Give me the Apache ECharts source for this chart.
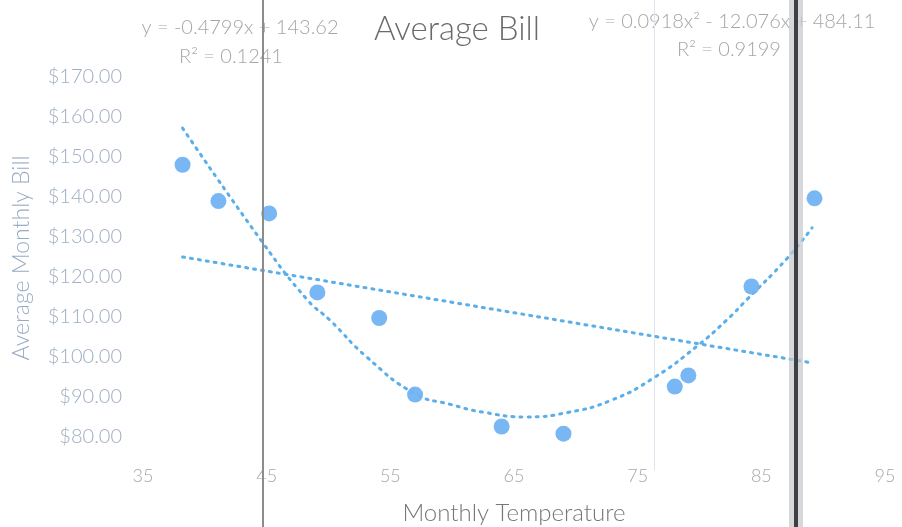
<!DOCTYPE html>
<html>
<head>
<meta charset="utf-8">
<script src="https://cdn.jsdelivr.net/npm/echarts@6/dist/echarts.min.js"></script>
<style>html,body{margin:0;padding:0;background:#fff}#c{width:902px;height:527px}</style>
</head>
<body>
<div id="c"></div>
<script>
// Data
const temps = [38.2, 41.1, 45.2, 49.1, 54.1, 57.0, 64.0, 69.0, 78.0, 79.1, 84.2, 89.3];
const bills = [148.0, 138.9, 135.8, 116.0, 109.6, 90.4, 82.4, 80.6, 92.4, 95.2, 117.5, 139.6];
// Trendlines
const linearTrend = [[38.2, 124.9], [89.2, 98.3]];
const polyTrend = [[38.2, 157.2], [44.7, 128.4], [48.3, 114.1], [50.1, 109.1], [53.1, 99.8],
  [57.0, 90.6], [59.8, 88.0], [62.5, 86.0], [66.0, 84.8], [69.3, 85.9], [72.8, 88.9],
  [76.3, 94.6], [79.9, 102.8], [82.2, 109.1], [83.8, 114.1], [87.1, 124.6], [89.1, 132.2]];
const xTicks = [35, 45, 55, 65, 75, 85, 95];
const titleText = 'Average Bill';
const xName = 'Monthly Temperature';
const yName = 'Average Monthly Bill';
const linEq = 'y = -0.4799x + 143.62';
const linR2 = 'R² = 0.1241';
const polyEq = 'y = 0.0918x² - 12.076x + 484.11';
const polyR2 = 'R² = 0.9199';

const font = 'Lato, "Open Sans", sans-serif';
const chart = echarts.init(document.getElementById('c'));
const pts = temps.map((t, i) => [t, bills[i]]);
chart.setOption({
  animation: false,
  backgroundColor: '#ffffff',
  title: {
    text: titleText, left: 452, top: 8, textAlign: 'center',
    textStyle: { fontFamily: font, fontSize: 33, fontWeight: 300, color: '#6a6a6a' }
  },
  grid: { left: 143, right: 17, top: 77, bottom: 51 },
  xAxis: {
    type: 'value', min: 35, max: 95, interval: 10,
    axisLine: { show: false }, axisTick: { show: false }, splitLine: { show: false },
    axisLabel: { margin: -9, fontFamily: font, fontSize: 18, fontWeight: 300, color: '#a6a6a6',
      formatter: v => xTicks.includes(v) ? String(v) : '' }
  },
  yAxis: {
    type: 'value', min: 70, max: 170, interval: 10,
    axisLine: { show: false }, axisTick: { show: false }, splitLine: { show: false },
    axisLabel: { showMinLabel: false, margin: 21, fontFamily: font, fontSize: 20, fontWeight: 300, color: '#9eaec3',
      formatter: v => '$' + v.toFixed(2) }
  },
  series: [
    { type: 'line', data: linearTrend, showSymbol: false, symbol: 'none', z: 2,
      lineStyle: { color: '#5aaeea', width: 3, type: [2, 6], cap: 'round' } },
    { type: 'line', data: polyTrend, smooth: 0.5, showSymbol: false, symbol: 'none', z: 2,
      lineStyle: { color: '#5aaeea', width: 3, type: [2, 6], cap: 'round' } },
    { type: 'scatter', data: pts, symbolSize: 16, z: 3,
      itemStyle: { color: '#72b3f3', opacity: 0.95 } }
  ],
  graphic: [
    { type: 'text', x: 514, y: 513, style: { text: xName, fontFamily: font, fontSize: 24, fontWeight: 300, fill: '#777777', align: 'center', verticalAlign: 'middle' } },
    { type: 'text', x: 22, y: 258, rotation: Math.PI / 2, style: { text: yName, fontFamily: font, fontSize: 23, fontWeight: 300, fill: '#98abc4', align: 'center', verticalAlign: 'middle' } },
    { type: 'text', x: 240, y: 28, style: { text: linEq, fontFamily: font, fontSize: 20, fontWeight: 300, fill: '#a6a6a6', align: 'center', verticalAlign: 'middle' } },
    { type: 'text', x: 231, y: 57, style: { text: linR2, fontFamily: font, fontSize: 20, fontWeight: 300, fill: '#a6a6a6', align: 'center', verticalAlign: 'middle' } },
    { type: 'text', x: 732, y: 22, style: { text: polyEq, fontFamily: font, fontSize: 20, fontWeight: 300, fill: '#a6a6a6', align: 'center', verticalAlign: 'middle' } },
    { type: 'text', x: 729, y: 50, style: { text: polyR2, fontFamily: font, fontSize: 20, fontWeight: 300, fill: '#a6a6a6', align: 'center', verticalAlign: 'middle' } },
    // scan artifacts visible in the reference photo
    { type: 'rect', shape: { x: 654, y: 0, width: 1, height: 470 }, style: { fill: '#dde6ef' }, z: 1 },
    { type: 'rect', shape: { x: 262, y: 0, width: 2, height: 527 }, style: { fill: '#8c8c8c' }, z: 10 },
    { type: 'rect', shape: { x: 789, y: 0, width: 14, height: 527 }, style: { fill: '#c4c8cc', opacity: 0.7 }, z: 10 },
    { type: 'rect', shape: { x: 794, y: 0, width: 4, height: 527 }, style: { fill: '#3d3f42' }, z: 11 }
  ]
});
</script>
</body>
</html>
